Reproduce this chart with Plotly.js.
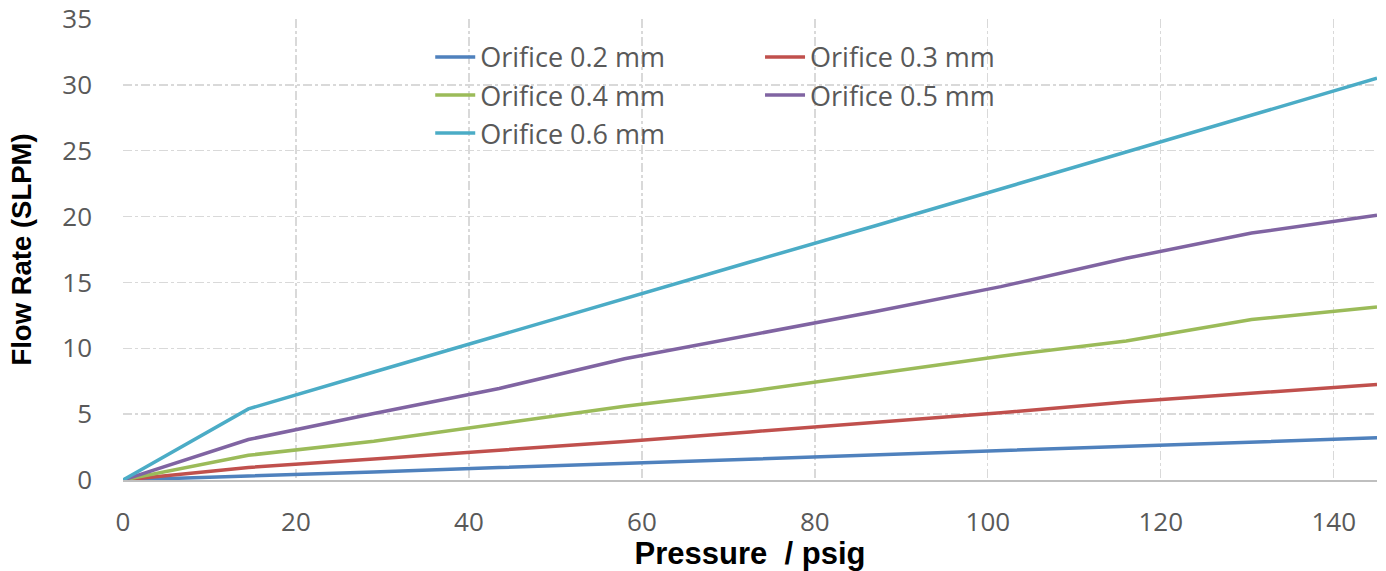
<!DOCTYPE html>
<html>
<head>
<meta charset="utf-8">
<script src="https://cdn.plot.ly/plotly-3.0.1.min.js"></script>
<style>html,body{margin:0;padding:0;background:#fff;}#chart{width:1386px;height:571px;}</style>
</head>
<body>
<div id="chart"></div>
<script>
const pressure = [0, 14.5, 29, 43.5, 58, 72.5, 87, 101.5, 116, 130.5, 145];
const seriesNames = ["Orifice 0.2 mm", "Orifice 0.3 mm", "Orifice 0.4 mm", "Orifice 0.5 mm", "Orifice 0.6 mm"];
const flow02 = [0, 0.28, 0.6, 0.94, 1.27, 1.6, 1.93, 2.25, 2.56, 2.89, 3.2];
const flow03 = [0, 0.95, 1.6, 2.26, 2.93, 3.65, 4.35, 5.1, 5.93, 6.57, 7.25];
const flow04 = [0, 1.88, 2.94, 4.26, 5.6, 6.74, 8.1, 9.4, 10.55, 12.18, 13.13];
const flow05 = [0, 3.07, 5.05, 6.95, 9.2, 11.0, 12.8, 14.68, 16.83, 18.75, 20.1];
const flow06 = [0, 5.4, 8.2, 11.0, 13.8, 16.55, 19.3, 22.1, 24.9, 27.7, 30.5];
const xTicks = [0, 20, 40, 60, 80, 100, 120, 140];
const yTicks = [0, 5, 10, 15, 20, 25, 30, 35];

const allFlows = [flow02, flow03, flow04, flow05, flow06];
const colors = ["#4F81BD", "#C0504D", "#9BBB59", "#8064A2", "#4BACC6"];
const legendIds = ["legend", "legend2", "legend", "legend2", "legend"];

const traces = allFlows.map((ys, i) => ({
  x: pressure,
  y: ys,
  name: seriesNames[i],
  type: "scatter",
  mode: "lines",
  line: {color: colors[i], width: 3.5},
  legend: legendIds[i]
}));

const fontFam = "'Open Sans', sans-serif";
const legendCommon = {
  font: {family: fontFam, size: 27, color: "#595959"},
  bgcolor: "rgba(0,0,0,0)",
  orientation: "v",
  xanchor: "left",
  yanchor: "top",
  tracegroupgap: 0,
  itemwidth: 40
};

const layout = {
  width: 1386,
  height: 571,
  margin: {l: 123, r: 9, t: 19, b: 91},
  paper_bgcolor: "#ffffff",
  plot_bgcolor: "#ffffff",
  showlegend: true,
  legend: Object.assign({}, legendCommon, {x: 0.245, y: 0.97}),
  legend2: Object.assign({}, legendCommon, {x: 0.508, y: 0.97}),
  xaxis: {
    range: [0, 145],
    tickvals: xTicks,
    ticktext: xTicks.map(String),
    showgrid: true,
    gridcolor: "#D9D9D9",
    gridwidth: 1.3,
    griddash: "dashdot",
    zeroline: false,
    showline: true,
    linecolor: "#BFBFBF",
    linewidth: 2,
    ticks: "",
    ticklabelstandoff: 18,
    tickfont: {family: fontFam, size: 26, color: "#595959"},
    title: {text: "Pressure  / psig", font: {family: "'Liberation Sans', Arial, sans-serif", size: 31, color: "#000000", weight: "bold"}, standoff: 2},
    automargin: false
  },
  yaxis: {
    range: [0, 35],
    tickvals: yTicks,
    ticktext: yTicks.map(String),
    showgrid: true,
    gridcolor: "#D9D9D9",
    gridwidth: 1.3,
    griddash: "dashdot",
    zeroline: false,
    showline: false,
    ticks: "",
    ticklabelstandoff: 30,
    tickfont: {family: fontFam, size: 26, color: "#595959"},
    title: {text: "Flow Rate (SLPM)", font: {family: "'Liberation Sans', Arial, sans-serif", size: 27.5, color: "#000000", weight: "bold"}, standoff: 22},
    automargin: false
  }
};

Plotly.newPlot("chart", traces, layout, {displayModeBar: false, staticPlot: true});
</script>
</body>
</html>
